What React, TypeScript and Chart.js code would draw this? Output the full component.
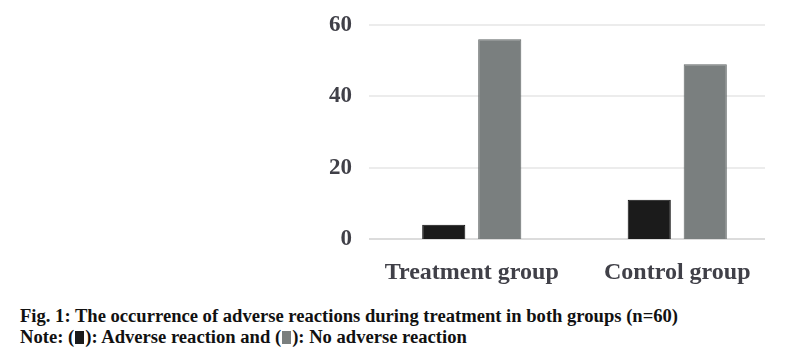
import React, { useEffect, useRef } from "react";
import { Chart, registerables } from "chart.js";

Chart.register(...registerables);

const categories = ["Treatment group", "Control group"];
const adverseReaction = [4, 11];
const noAdverseReaction = [56, 49];
const yTicks = [0, 20, 40, 60];
const seriesNames = ["Adverse reaction", "No adverse reaction"];

const BLACK = "#1b1b1b";
const GRAY = "#7a7f7f";

// draws horizontal gridlines from the y scale, stopping a little short of the plot's right edge
const gridPlugin = {
  id: "shortGrid",
  beforeDatasetsDraw(chart: any) {
    const { ctx, chartArea, scales } = chart;
    const y = scales.y;
    ctx.save();
    y.ticks.forEach((t: any) => {
      const py = Math.round(y.getPixelForValue(t.value));
      ctx.strokeStyle = t.value === 0 ? "#dcdcdc" : "#ececec";
      ctx.lineWidth = 2;
      ctx.beginPath();
      ctx.moveTo(chartArea.left, py);
      ctx.lineTo(chartArea.right - 15, py);
      ctx.stroke();
    });
    ctx.restore();
  },
};

export default function App() {
  const ref = useRef<HTMLCanvasElement | null>(null);

  useEffect(() => {
    if (!ref.current) return;
    const chart = new Chart(ref.current, {
      type: "bar",
      data: {
        labels: categories,
        datasets: [
          {
            label: seriesNames[0],
            data: adverseReaction,
            backgroundColor: BLACK,
            borderColor: "#0e0e0e",
            borderWidth: 1,
            categoryPercentage: 0.545,
            barPercentage: 0.77,
          },
          {
            label: seriesNames[1],
            data: noAdverseReaction,
            backgroundColor: GRAY,
            borderColor: "#626767",
            borderWidth: 1,
            categoryPercentage: 0.545,
            barPercentage: 0.77,
          },
        ],
      },
      options: {
        animation: false,
        responsive: false,
        maintainAspectRatio: false,
        layout: { padding: { top: 25, right: 19, left: 0, bottom: 0 } },
        plugins: { legend: { display: false }, tooltip: { enabled: false } },
        scales: {
          x: {
            grid: { display: false, drawTicks: false },
            border: { display: false },
            ticks: {
              color: "#404048",
              padding: 19,
              font: { family: "Liberation Serif", weight: "bold", size: 24 },
            },
            afterFit: (s: any) => {
              s.height = 61;
            },
          },
          y: {
            min: 0,
            max: 60,
            afterBuildTicks: (s: any) => {
              s.ticks = yTicks.map((v) => ({ value: v }));
            },
            grid: { display: false, drawTicks: false },
            border: { display: false },
            ticks: {
              color: "#404048",
              padding: 17,
              font: { family: "Liberation Serif", weight: "bold", size: 23 },
            },
            afterFit: (s: any) => {
              s.width = 369;
              s.paddingTop = 0;
              s.paddingBottom = 0;
            },
          },
        },
      },
      plugins: [gridPlugin],
    });
    return () => chart.destroy();
  }, []);

  const sq = (c: string) => (
    <span
      style={{
        display: "inline-block",
        width: 9,
        height: 13,
        background: c,
        verticalAlign: "-1px",
        margin: "0 1px",
      }}
    />
  );

  return (
    <div style={{ position: "fixed", left: 0, top: 0, width: 799, height: 364, background: "#fff" }}>
      <canvas ref={ref} width={799} height={300} style={{ position: "absolute", left: 0, top: 0 }} />
      <div
        style={{
          position: "absolute",
          left: 20,
          top: 305,
          fontFamily: "Liberation Serif",
          fontWeight: "bold",
          fontSize: 18.6,
          lineHeight: "21px",
          color: "#111",
          whiteSpace: "nowrap",
        }}
      >
        <div>Fig. 1: The occurrence of adverse reactions during treatment in both groups (n=60)</div>
        <div>
          Note: ({sq(BLACK)}): {seriesNames[0]} and ({sq(GRAY)}): {seriesNames[1]}
        </div>
      </div>
    </div>
  );
}
